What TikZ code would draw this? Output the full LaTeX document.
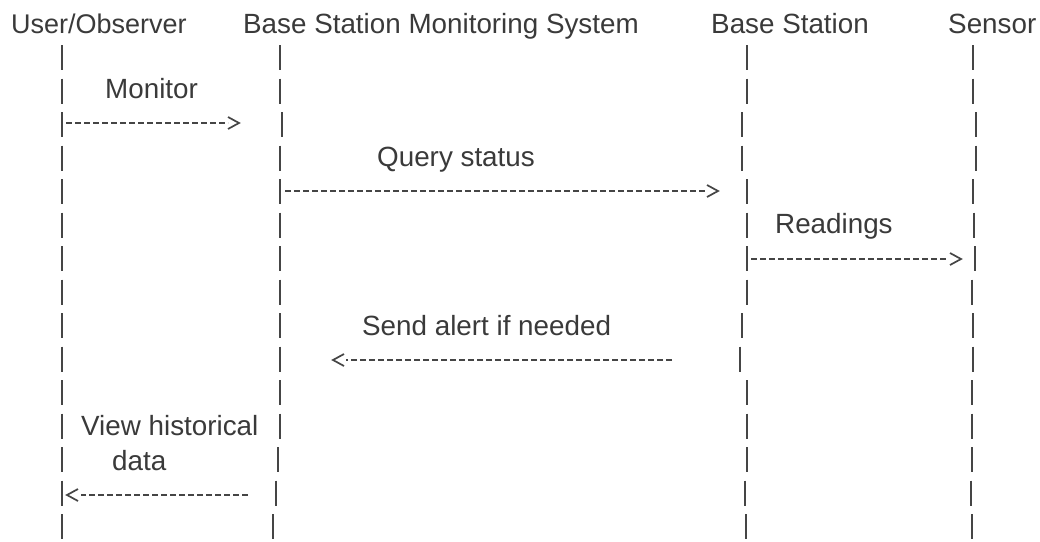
\documentclass[tikz,border=0pt]{standalone}
\usepackage{fontspec}
\setmainfont{Liberation Sans}
\definecolor{ink}{HTML}{3A3A3A}
\definecolor{rule}{HTML}{454545}
\tikzset{
  lbl/.style={inner sep=0pt, anchor=base west, text=ink, font=\fontsize{27.8}{31}\selectfont},
  pipe/.style={draw=rule, line width=2.2pt},
  dsh/.style={draw=rule, line width=1.6pt, dash pattern=on 6pt off 3pt},
  chev/.style={draw=rule, line width=1.7pt, line join=miter}
}
\begin{document}
\begin{tikzpicture}[x=1pt,y=-1pt]
\useasboundingbox (0,0) rectangle (1040,541);
\fill[white] (0,0) rectangle (1040,541);
% headers
\node[lbl, font=\fontsize{27}{31}\selectfont] (hA) at (11,33) {User/Observer};
\node[lbl] (hB) at (243,33) {Base Station Monitoring System};
\node[lbl] (hC) at (711,33) {Base Station};
\node[lbl] (hD) at (948,33) {Sensor};
% lifelines (ASCII-style pipes)
\foreach \x [count=\i] in {62,62,62,62,62,62,62,62,62,62,62,62,62,62,62}
  \draw[pipe] (\x,{57.5+(\i-1)*33.5-12.5}) -- ++(0,25);
\foreach \x [count=\i] in {280,280,282,280,280,280,280,280,280,280,280,280,278,276,273}
  \draw[pipe] (\x,{57.5+(\i-1)*33.5-12.5}) -- ++(0,25);
\foreach \x [count=\i] in {747,747,742,742,747,747,747,747,742,740,747,747,747,745,746}
  \draw[pipe] (\x,{57.5+(\i-1)*33.5-12.5}) -- ++(0,25);
\foreach \x [count=\i] in {973,973,976,976,973,974,975,972,973,973,972,972,972,971,972}
  \draw[pipe] (\x,{57.5+(\i-1)*33.5-12.5}) -- ++(0,25);
% labels
\node[lbl] (lMon) at (105,98) {Monitor};
\node[lbl] (lQry) at (377,166) {Query status};
\node[lbl] (lRd) at (775,233) {Readings};
\node[lbl] (lAl) at (362,335) {Send alert if needed};
\node[lbl] (lV1) at (81,435) {View historical};
\node[lbl] (lV2) at (112,470) {data};
% Monitor
\coordinate (m1) at (66,123); \coordinate (m2) at (228,123); \coordinate (m3) at (239,123);
\draw[dsh] (m1) -- (m2);
\draw[chev] ([shift={(-11,-6)}]m3) -- (m3) -- ([shift={(-11,6)}]m3);
% Query status
\coordinate (q1) at (285,191); \coordinate (q2) at (705,191); \coordinate (q3) at (718,191);
\draw[dsh] (q1) -- (q2);
\draw[chev] ([shift={(-11,-6)}]q3) -- (q3) -- ([shift={(-11,6)}]q3);
% Readings
\coordinate (r1) at (751,259); \coordinate (r2) at (947,259); \coordinate (r3) at (961,259);
\draw[dsh] (r1) -- (r2);
\draw[chev] ([shift={(-11,-6)}]r3) -- (r3) -- ([shift={(-11,6)}]r3);
% Send alert
\coordinate (a1) at (672,360); \coordinate (a2) at (346,360); \coordinate (a3) at (333,360);
\draw[dsh] (a1) -- (a2);
\draw[chev] ([shift={(11,-6)}]a3) -- (a3) -- ([shift={(11,6)}]a3);
% View historical data
\coordinate (v1) at (248,495); \coordinate (v2) at (81,495); \coordinate (v3) at (67,495);
\draw[dsh] (v1) -- (v2);
\draw[chev] ([shift={(11,-6)}]v3) -- (v3) -- ([shift={(11,6)}]v3);
\end{tikzpicture}
\end{document}
